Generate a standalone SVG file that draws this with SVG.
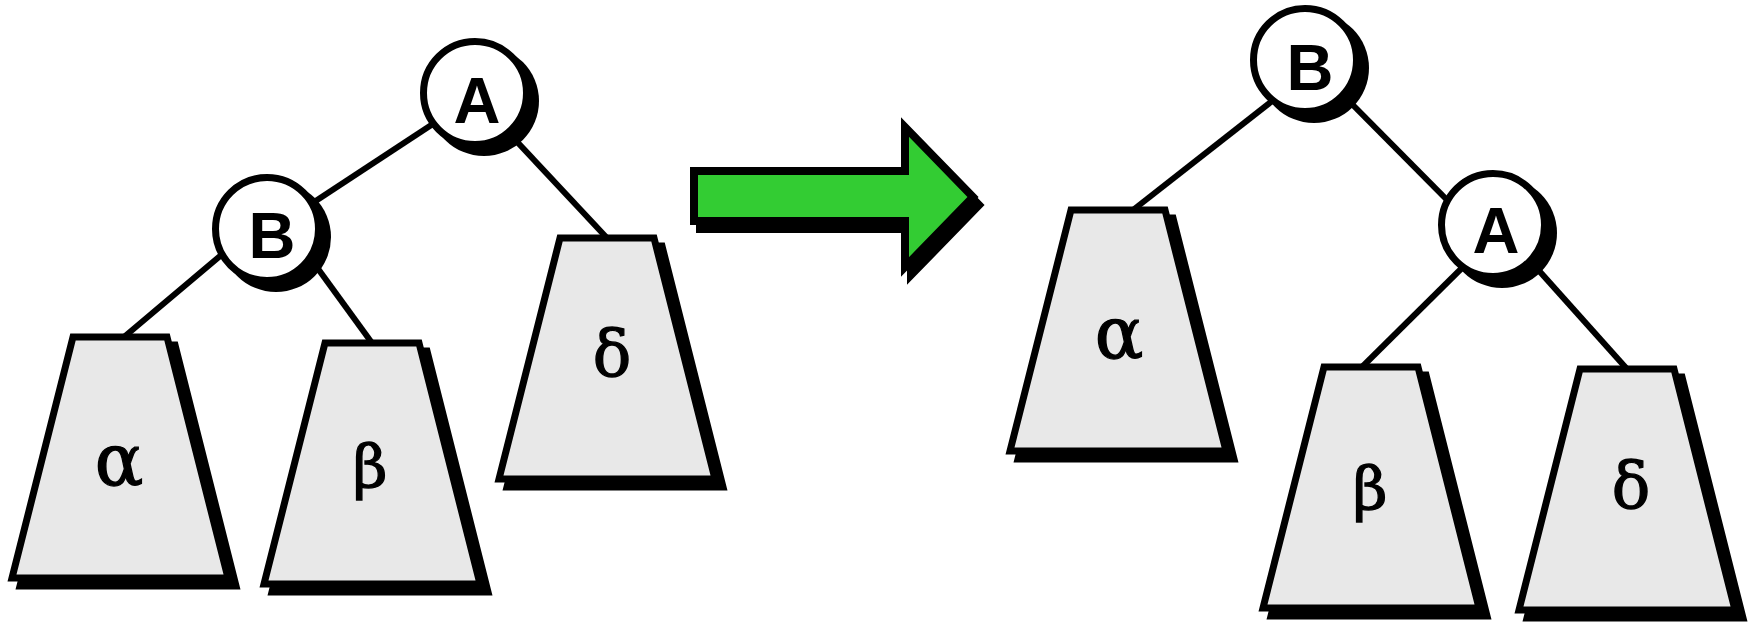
<svg xmlns="http://www.w3.org/2000/svg" xmlns:xlink="http://www.w3.org/1999/xlink" width="1756" height="626" viewBox="0 0 1756 626">
  <style>
    .edge { stroke: #000; stroke-width: 6; fill: none; }
    .trap { fill: #E8E8E8; stroke: #000; stroke-width: 7; stroke-linejoin: miter; }
    .tshadow { fill: #000; stroke: #000; stroke-width: 7; }
    .circ { fill: #fff; stroke: #000; stroke-width: 7; }
    .cshadow { fill: #000; }
    .letter { font-family: "Liberation Sans", Arial, sans-serif; font-weight: bold; font-size: 65px; text-anchor: middle; fill: #000; }
    .greek { font-family: "DejaVu Serif", "Liberation Serif", serif; text-anchor: middle; fill: #000; stroke: #000; stroke-width: 1.3; }
    .ga { font-size: 72px; }
    .gb { font-size: 60px; }
    .gd { font-size: 64px; }
    .arrow { fill: #33CC33; stroke: #000; stroke-width: 8; stroke-linejoin: miter; stroke-miterlimit: 10; }
    .ashadow { fill: #000; stroke: #000; stroke-width: 8; stroke-miterlimit: 10; }
  </style>
  <defs>
    <polygon id="trapShape" points="-47,0 47,0 108,241 -108,241"/>
  </defs>
  <rect width="1756" height="626" fill="#fff"/>

  <g id="connectors">
    <line class="edge" x1="445" y1="116" x2="305" y2="208"/>
    <line class="edge" x1="505" y1="129" x2="607" y2="238"/>
    <line class="edge" x1="245" y1="235" x2="124" y2="337"/>
    <line class="edge" x1="300" y1="244" x2="372" y2="343"/>
    <line class="edge" x1="1290" y1="87" x2="1133" y2="210"/>
    <line class="edge" x1="1340" y1="92" x2="1460" y2="213"/>
    <line class="edge" x1="1475" y1="255" x2="1362" y2="367"/>
    <line class="edge" x1="1525" y1="255" x2="1627" y2="369"/>
  </g>

  <g id="left-alpha">
    <use xlink:href="#trapShape" class="tshadow" x="128" y="345"/>
    <use xlink:href="#trapShape" class="trap" x="120" y="337"/>
    <text class="greek ga" x="119" y="485">α</text>
  </g>
  <g id="left-beta">
    <use xlink:href="#trapShape" class="tshadow" x="380" y="351"/>
    <use xlink:href="#trapShape" class="trap" x="372" y="343"/>
    <text class="greek gb" x="370" y="488">β</text>
  </g>
  <g id="left-delta">
    <use xlink:href="#trapShape" class="tshadow" x="615" y="246"/>
    <use xlink:href="#trapShape" class="trap" x="607" y="238"/>
    <text class="greek gd" x="612" y="375">δ</text>
  </g>
  <g id="left-A">
    <circle class="cshadow" cx="484" cy="101" r="55"/>
    <circle class="circ" cx="475" cy="93" r="51.5"/>
    <text class="letter" x="477" y="123">A</text>
  </g>
  <g id="left-B">
    <circle class="cshadow" cx="276" cy="237" r="55"/>
    <circle class="circ" cx="267" cy="229" r="51.5"/>
    <text class="letter" x="272" y="258">B</text>
  </g>

  <g id="arrow">
    <polygon class="ashadow" points="700,179 911,179 911,135 979,205 911,275 911,229 700,229"/>
    <polygon class="arrow" points="694,171 905,171 905,127 973,197 905,267 905,221 694,221"/>
  </g>

  <g id="right-alpha">
    <use xlink:href="#trapShape" class="tshadow" x="1126" y="218"/>
    <use xlink:href="#trapShape" class="trap" x="1118" y="210"/>
    <text class="greek ga" x="1119" y="358">α</text>
  </g>
  <g id="right-beta">
    <use xlink:href="#trapShape" class="tshadow" x="1379" y="375"/>
    <use xlink:href="#trapShape" class="trap" x="1371" y="367"/>
    <text class="greek gb" x="1370" y="510">β</text>
  </g>
  <g id="right-delta">
    <use xlink:href="#trapShape" class="tshadow" x="1635" y="377"/>
    <use xlink:href="#trapShape" class="trap" x="1627" y="369"/>
    <text class="greek gd" x="1631" y="507">δ</text>
  </g>
  <g id="right-B">
    <circle class="cshadow" cx="1314" cy="68" r="55"/>
    <circle class="circ" cx="1305" cy="60" r="51.5"/>
    <text class="letter" x="1310" y="90">B</text>
  </g>
  <g id="right-A">
    <circle class="cshadow" cx="1502" cy="233" r="55"/>
    <circle class="circ" cx="1493" cy="225" r="51.5"/>
    <text class="letter" x="1496" y="253">A</text>
  </g>
</svg>
